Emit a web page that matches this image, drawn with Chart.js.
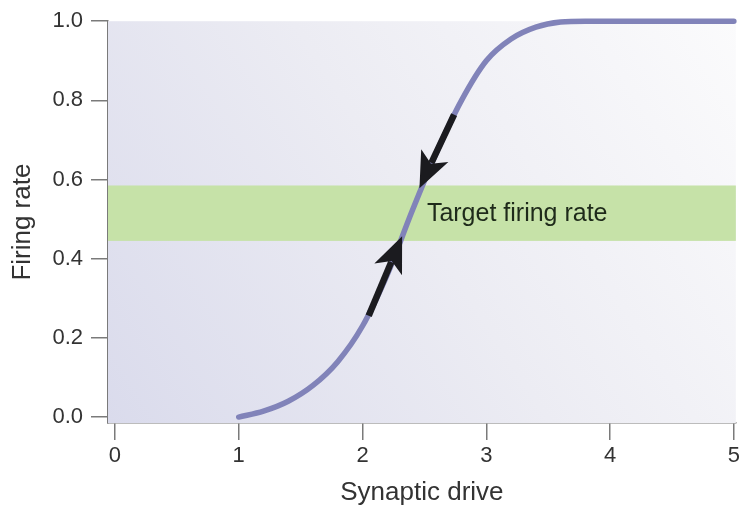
<!DOCTYPE html>
<html>
<head>
<meta charset="utf-8">
<script src="https://cdn.jsdelivr.net/npm/chart.js@4"></script>
<style>
  html, body { margin: 0; padding: 0; background: #fff; }
  #wrap { width: 743px; height: 506px; }
</style>
</head>
<body>
<div id="wrap"><canvas id="myChart" width="743" height="506"></canvas></div>
<script>
// sigmoid firing-rate curve
const driveValues = [1.0, 1.2, 1.4, 1.6, 1.8, 2.0, 2.2, 2.4, 2.6, 2.8, 3.0, 3.2, 3.4, 3.6, 3.8, 4.0, 4.5, 5.0];
const rateValues  = [0.0, 0.015, 0.04, 0.08, 0.14, 0.23, 0.36, 0.52, 0.67, 0.80, 0.90, 0.955, 0.985, 0.998, 1.0, 1.0, 1.0, 1.0];

const xTicks = [0, 1, 2, 3, 4, 5];
const yTicks = [0.0, 0.2, 0.4, 0.6, 0.8, 1.0];

// target band (low, high) and its label
const targetBand = [0.445, 0.585];
const targetLabel = 'Target firing rate';
const targetLabelAt = [2.52, 0.513];

// arrows: [fromX, fromY, toX, toY]
const arrowUp   = [2.05, 0.256, 2.32, 0.457];
const arrowDown = [2.74, 0.764, 2.46, 0.578];

const FONT = '"Liberation Sans", Arial, sans-serif';
const AXIS_COLOR = '#7a7a7a';
const TEXT_COLOR = '#333';

const bgPlugin = {
  id: 'bgPlugin',
  beforeDatasetsDraw(chart) {
    const { ctx, chartArea: a, scales } = chart;
    ctx.save();
    const g = ctx.createLinearGradient(a.left, a.bottom, a.right, a.top);
    g.addColorStop(0, '#dadbec');
    g.addColorStop(0.5, '#ececf3');
    g.addColorStop(1, '#fbfbfc');
    ctx.fillStyle = g;
    ctx.fillRect(a.left, a.top, a.right - a.left, a.bottom - a.top);

    // green band
    const yTop = scales.y.getPixelForValue(targetBand[1]);
    const yBot = scales.y.getPixelForValue(targetBand[0]);
    ctx.fillStyle = '#c6e2a8';
    ctx.fillRect(a.left, yTop, a.right - a.left, yBot - yTop);

    ctx.fillStyle = '#1e2a1a';
    ctx.font = '25px ' + FONT;
    ctx.textBaseline = 'middle';
    ctx.fillText(targetLabel, scales.x.getPixelForValue(targetLabelAt[0]), scales.y.getPixelForValue(targetLabelAt[1]));
    ctx.restore();
  }
};

function drawArrow(ctx, sx, sy, arr) {
  const x1 = sx.getPixelForValue(arr[0]), y1 = sy.getPixelForValue(arr[1]);
  const x2 = sx.getPixelForValue(arr[2]), y2 = sy.getPixelForValue(arr[3]);
  const ang = Math.atan2(y2 - y1, x2 - x1);
  const headLen = 36, headW = 15;
  const bx = x2 - headLen * Math.cos(ang), by = y2 - headLen * Math.sin(ang);
  ctx.strokeStyle = '#1b1b1f';
  ctx.fillStyle = '#1b1b1f';
  ctx.lineWidth = 6.5;
  ctx.lineCap = 'butt';
  ctx.beginPath();
  ctx.moveTo(x1, y1);
  ctx.lineTo(bx + 8 * Math.cos(ang), by + 8 * Math.sin(ang));
  ctx.stroke();
  ctx.beginPath();
  ctx.moveTo(x2, y2);
  ctx.lineTo(bx + headW * Math.sin(ang), by - headW * Math.cos(ang));
  ctx.lineTo(bx + 9 * Math.cos(ang), by + 9 * Math.sin(ang));
  ctx.lineTo(bx - headW * Math.sin(ang), by + headW * Math.cos(ang));
  ctx.closePath();
  ctx.fill();
}

const arrowPlugin = {
  id: 'arrowPlugin',
  afterDatasetsDraw(chart) {
    const { ctx, scales } = chart;
    ctx.save();
    drawArrow(ctx, scales.x, scales.y, arrowUp);
    drawArrow(ctx, scales.x, scales.y, arrowDown);
    ctx.restore();
  }
};

const ctx = document.getElementById('myChart');
new Chart(ctx, {
  type: 'line',
  data: {
    datasets: [{
      data: driveValues.map((x, i) => ({ x: x, y: rateValues[i] })),
      borderColor: '#8183b9',
      borderWidth: 5.5,
      borderCapStyle: 'round',
      pointRadius: 0,
      cubicInterpolationMode: 'monotone',
      fill: false,
      clip: false
    }]
  },
  options: {
    responsive: false,
    animation: false,
    layout: { padding: { top: 19, right: 5, left: 0, bottom: 0 } },
    plugins: {
      legend: { display: false },
      tooltip: { enabled: false }
    },
    scales: {
      x: {
        type: 'linear',
        min: -0.056,
        max: 5.016,
        afterBuildTicks: axis => { axis.ticks = xTicks.map(v => ({ value: v })); },
        afterFit: scale => { scale.height = 83; },
        border: { color: AXIS_COLOR, width: 1.5 },
        grid: { drawOnChartArea: false, color: AXIS_COLOR, lineWidth: 1.5, tickLength: 17 },
        ticks: {
          color: TEXT_COLOR,
          font: { family: FONT, size: 22 },
          padding: 3,
          maxRotation: 0
        },
        title: {
          display: true,
          text: 'Synaptic drive',
          color: TEXT_COLOR,
          font: { family: FONT, size: 26, lineHeight: 1.0 },
          padding: { top: 4, bottom: 0 }
        }
      },
      y: {
        min: -0.015,
        max: 1.0,
        afterBuildTicks: axis => { axis.ticks = yTicks.map(v => ({ value: v })); },
        afterFit: scale => { scale.width = 108; },
        border: { color: AXIS_COLOR, width: 1.5 },
        grid: { drawOnChartArea: false, color: AXIS_COLOR, lineWidth: 1.5, tickLength: 17 },
        ticks: {
          color: TEXT_COLOR,
          font: { family: FONT, size: 22 },
          padding: 8,
          callback: v => v.toFixed(1)
        },
        title: {
          display: true,
          text: 'Firing rate',
          color: TEXT_COLOR,
          font: { family: FONT, size: 26, lineHeight: 1.0 },
          padding: { top: 10, bottom: 4 }
        }
      }
    }
  },
  plugins: [bgPlugin, arrowPlugin]
});
</script>
</body>
</html>
